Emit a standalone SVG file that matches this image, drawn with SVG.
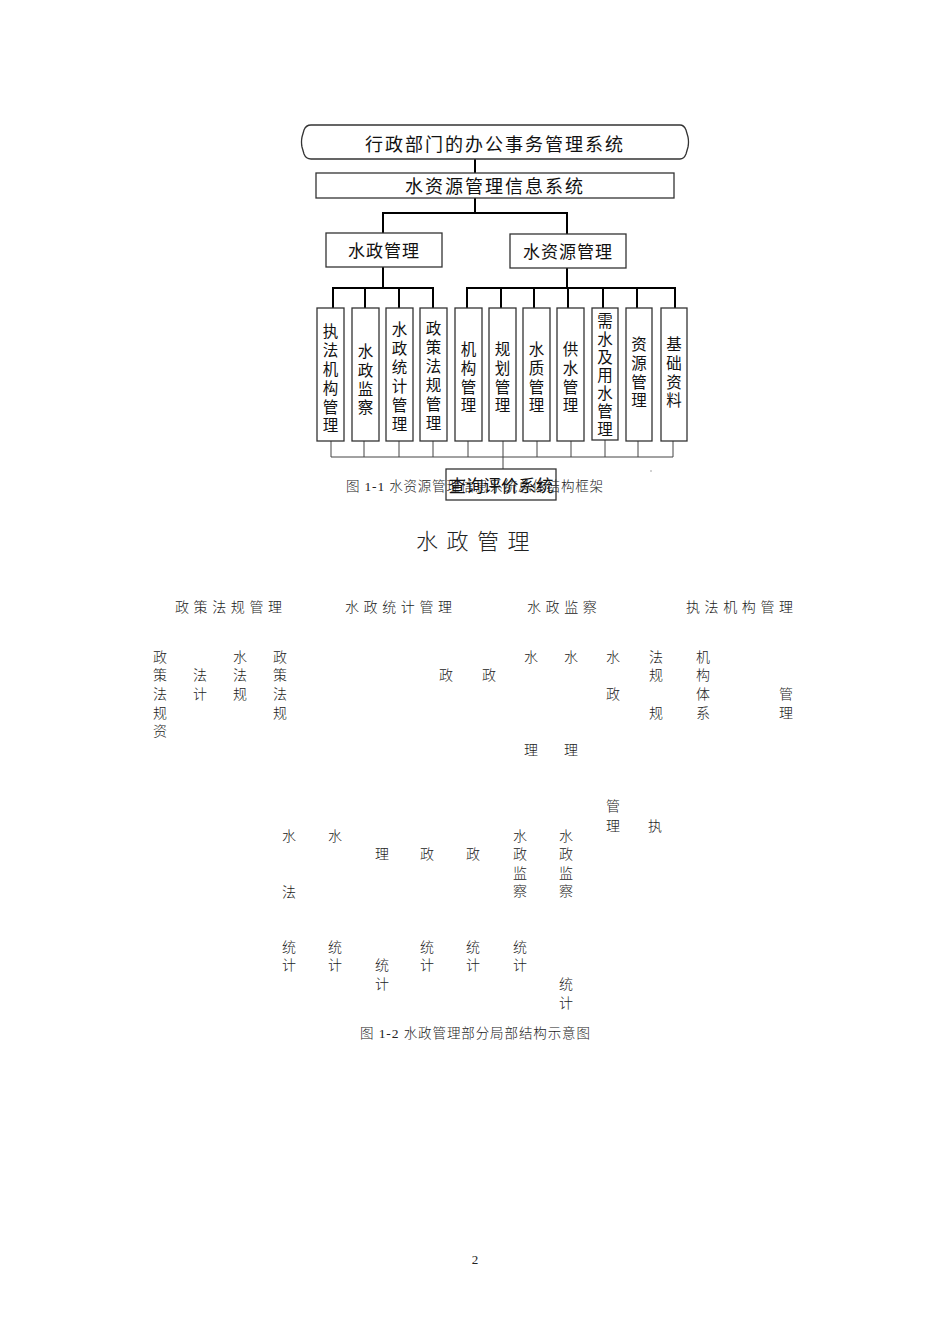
<svg xmlns="http://www.w3.org/2000/svg" width="950" height="1344" viewBox="0 0 950 1344">
<style>
.bx{fill:none;stroke:#333;stroke-width:1.3}
.t{font-family:"Noto Sans CJK SC","Noto Sans",sans-serif;fill:#111}
.big{font-size:18px;letter-spacing:2px;text-anchor:middle}
.mid{font-size:17px;letter-spacing:1px;text-anchor:middle}
.v{font-size:15.5px;text-anchor:middle}
.s{font-family:"Liberation Serif","Noto Sans CJK SC",serif;font-weight:300;fill:#222}
.c{font-size:14px;text-anchor:middle}
.h{font-size:14px;letter-spacing:4.6px}
.thick{stroke:#000;stroke-width:2;fill:none}
.thin{stroke:#444;stroke-width:1;fill:none}
</style>
<rect width="950" height="1344" fill="#fff"/>

<g id="connectors">
<line class="thick" x1="475" y1="159" x2="475" y2="173"/>
<polyline class="thick" points="383,233 383,213 567,213 567,234"/>
<line class="thick" x1="475" y1="198" x2="475" y2="213"/>
<line class="thick" x1="383" y1="267" x2="383" y2="288"/>
<line class="thick" x1="567" y1="268" x2="567" y2="288"/>
<line class="thick" x1="332" y1="288" x2="434" y2="288"/>
<line class="thick" x1="466" y1="288" x2="676" y2="288"/>
<g class="thick">
<line x1="333" y1="288" x2="333" y2="308"/><line x1="365" y1="288" x2="365" y2="308"/>
<line x1="399" y1="288" x2="399" y2="308"/><line x1="433" y1="288" x2="433" y2="308"/>
<line x1="467" y1="288" x2="467" y2="308"/><line x1="501" y1="288" x2="501" y2="308"/>
<line x1="534" y1="288" x2="534" y2="308"/><line x1="568" y1="288" x2="568" y2="308"/>
<line x1="603" y1="288" x2="603" y2="308"/><line x1="637" y1="288" x2="637" y2="308"/>
<line x1="675" y1="288" x2="675" y2="308"/>
</g>
<g class="thin">
<line x1="331" y1="441" x2="331" y2="457"/><line x1="364" y1="441" x2="364" y2="457"/>
<line x1="399" y1="441" x2="399" y2="457"/><line x1="433" y1="441" x2="433" y2="457"/>
<line x1="468" y1="441" x2="468" y2="457"/><line x1="503" y1="441" x2="503" y2="469"/>
<line x1="537" y1="441" x2="537" y2="457"/><line x1="571" y1="441" x2="571" y2="457"/>
<line x1="605" y1="440" x2="605" y2="457"/><line x1="638" y1="441" x2="638" y2="457"/>
<line x1="673" y1="441" x2="673" y2="457"/>
<line x1="331" y1="457" x2="673" y2="457"/>
</g>
</g>

<g id="office">
<path class="bx" d="M311,125 L680,125 Q684,125 686,130 L688,137 Q689,142 688,147 L686,154 Q684,159 680,159 L311,159 Q306,159 304,154 L302,147 Q301,142 302,137 L304,130 Q306,125 311,125 Z"/>
<text class="t big" x="495" y="151">行政部门的办公事务管理系统</text>
</g>
<g id="wris">
<rect class="bx" x="316" y="173" width="358" height="25"/>
<text class="t big" x="495" y="193">水资源管理信息系统</text>
</g>
<g id="szgl">
<rect class="bx" x="326" y="233" width="116" height="34"/>
<text class="t mid" x="384" y="257">水政管理</text>
</g>
<g id="szygl">
<rect class="bx" x="510" y="234" width="116" height="34"/>
<text class="t mid" x="568" y="258">水资源管理</text>
</g>

<g id="b1"><rect class="bx" x="317" y="308" width="27" height="133"/>
<text class="t v"><tspan x="330.5" y="337">执</tspan><tspan x="330.5" y="356">法</tspan><tspan x="330.5" y="375">机</tspan><tspan x="330.5" y="394">构</tspan><tspan x="330.5" y="413">管</tspan><tspan x="330.5" y="431">理</tspan></text></g>
<g id="b2"><rect class="bx" x="352" y="308" width="27" height="133"/>
<text class="t v"><tspan x="365.5" y="357">水</tspan><tspan x="365.5" y="376">政</tspan><tspan x="365.5" y="395">监</tspan><tspan x="365.5" y="413">察</tspan></text></g>
<g id="b3"><rect class="bx" x="386" y="308" width="27" height="133"/>
<text class="t v"><tspan x="399.5" y="335">水</tspan><tspan x="399.5" y="354">政</tspan><tspan x="399.5" y="373">统</tspan><tspan x="399.5" y="392">计</tspan><tspan x="399.5" y="411">管</tspan><tspan x="399.5" y="430">理</tspan></text></g>
<g id="b4"><rect class="bx" x="420" y="308" width="27" height="133"/>
<text class="t v"><tspan x="433.5" y="334">政</tspan><tspan x="433.5" y="353">策</tspan><tspan x="433.5" y="372">法</tspan><tspan x="433.5" y="391">规</tspan><tspan x="433.5" y="410">管</tspan><tspan x="433.5" y="429">理</tspan></text></g>
<g id="b5"><rect class="bx" x="455" y="308" width="27" height="133"/>
<text class="t v"><tspan x="468.5" y="355">机</tspan><tspan x="468.5" y="374">构</tspan><tspan x="468.5" y="393">管</tspan><tspan x="468.5" y="411">理</tspan></text></g>
<g id="b6"><rect class="bx" x="489" y="308" width="27" height="133"/>
<text class="t v"><tspan x="502.5" y="355">规</tspan><tspan x="502.5" y="374">划</tspan><tspan x="502.5" y="393">管</tspan><tspan x="502.5" y="411">理</tspan></text></g>
<g id="b7"><rect class="bx" x="523" y="308" width="27" height="133"/>
<text class="t v"><tspan x="536.5" y="355">水</tspan><tspan x="536.5" y="374">质</tspan><tspan x="536.5" y="393">管</tspan><tspan x="536.5" y="411">理</tspan></text></g>
<g id="b8"><rect class="bx" x="557" y="308" width="27" height="133"/>
<text class="t v"><tspan x="570.5" y="355">供</tspan><tspan x="570.5" y="374">水</tspan><tspan x="570.5" y="393">管</tspan><tspan x="570.5" y="411">理</tspan></text></g>
<g id="b9"><rect class="bx" x="592" y="308" width="26" height="132"/>
<text class="t v"><tspan x="605" y="327">需</tspan><tspan x="605" y="345">水</tspan><tspan x="605" y="363">及</tspan><tspan x="605" y="381">用</tspan><tspan x="605" y="399">水</tspan><tspan x="605" y="417">管</tspan><tspan x="605" y="435">理</tspan></text></g>
<g id="b10"><rect class="bx" x="626" y="308" width="26" height="133"/>
<text class="t v"><tspan x="639" y="350">资</tspan><tspan x="639" y="369">源</tspan><tspan x="639" y="388">管</tspan><tspan x="639" y="406">理</tspan></text></g>
<g id="b11"><rect class="bx" x="661" y="308" width="26" height="133"/>
<text class="t v"><tspan x="674" y="350">基</tspan><tspan x="674" y="369">础</tspan><tspan x="674" y="388">资</tspan><tspan x="674" y="406">料</tspan></text></g>

<text class="s" x="346" y="491" font-size="13.5" textLength="257" lengthAdjust="spacing">图 1-1 水资源管理信息系统总体结构框架</text>
<g id="query">
<rect class="bx" x="446" y="469" width="110" height="31"/>
<text class="t" x="501" y="492" font-size="17.5" text-anchor="middle">查询评价系统</text>
</g>
<circle cx="651" cy="471" r="0.8" fill="#999"/>

<text class="s" x="416" y="549" font-size="22" letter-spacing="8.5">水政管理</text>

<g class="s h">
<text x="175" y="612">政策法规管理</text>
<text x="345" y="612">水政统计管理</text>
<text x="527" y="612">水政监察</text>
<text x="686" y="612">执法机构管理</text>
</g>

<g class="s c">
<text><tspan x="160" y="662">政</tspan><tspan x="160" y="680">策</tspan><tspan x="160" y="699">法</tspan><tspan x="160" y="718">规</tspan><tspan x="160" y="736">资</tspan></text>
<text><tspan x="200" y="680">法</tspan><tspan x="200" y="699">计</tspan></text>
<text><tspan x="240" y="662">水</tspan><tspan x="240" y="680">法</tspan><tspan x="240" y="699">规</tspan></text>
<text><tspan x="280" y="662">政</tspan><tspan x="280" y="680">策</tspan><tspan x="280" y="699">法</tspan><tspan x="280" y="718">规</tspan></text>
<text x="446" y="680">政</text>
<text x="489" y="680">政</text>
<text><tspan x="531" y="662">水</tspan><tspan x="531" y="755">理</tspan></text>
<text><tspan x="571" y="662">水</tspan><tspan x="571" y="755">理</tspan></text>
<text><tspan x="613" y="662">水</tspan><tspan x="613" y="699">政</tspan></text>
<text><tspan x="656" y="662">法</tspan><tspan x="656" y="680">规</tspan><tspan x="656" y="718">规</tspan></text>
<text><tspan x="703" y="662">机</tspan><tspan x="703" y="680">构</tspan><tspan x="703" y="699">体</tspan><tspan x="703" y="718">系</tspan></text>
<text><tspan x="786" y="699">管</tspan><tspan x="786" y="718">理</tspan></text>

<text><tspan x="613" y="811">管</tspan><tspan x="613" y="831">理</tspan></text>
<text x="655" y="831">执</text>
<text><tspan x="289" y="841">水</tspan><tspan x="289" y="897">法</tspan><tspan x="289" y="952">统</tspan><tspan x="289" y="970">计</tspan></text>
<text><tspan x="335" y="841">水</tspan><tspan x="335" y="952">统</tspan><tspan x="335" y="970">计</tspan></text>
<text><tspan x="382" y="859">理</tspan><tspan x="382" y="970">统</tspan><tspan x="382" y="989">计</tspan></text>
<text><tspan x="427" y="859">政</tspan><tspan x="427" y="952">统</tspan><tspan x="427" y="970">计</tspan></text>
<text><tspan x="473" y="859">政</tspan><tspan x="473" y="952">统</tspan><tspan x="473" y="970">计</tspan></text>
<text><tspan x="520" y="841">水</tspan><tspan x="520" y="859">政</tspan><tspan x="520" y="878">监</tspan><tspan x="520" y="896">察</tspan><tspan x="520" y="952">统</tspan><tspan x="520" y="970">计</tspan></text>
<text><tspan x="566" y="841">水</tspan><tspan x="566" y="859">政</tspan><tspan x="566" y="878">监</tspan><tspan x="566" y="896">察</tspan><tspan x="566" y="989">统</tspan><tspan x="566" y="1008">计</tspan></text>
</g>

<text class="s" x="360" y="1038" font-size="13.5" textLength="230" lengthAdjust="spacing">图 1-2 水政管理部分局部结构示意图</text>
<text class="s" x="475" y="1264" font-size="13" text-anchor="middle">2</text>
</svg>
